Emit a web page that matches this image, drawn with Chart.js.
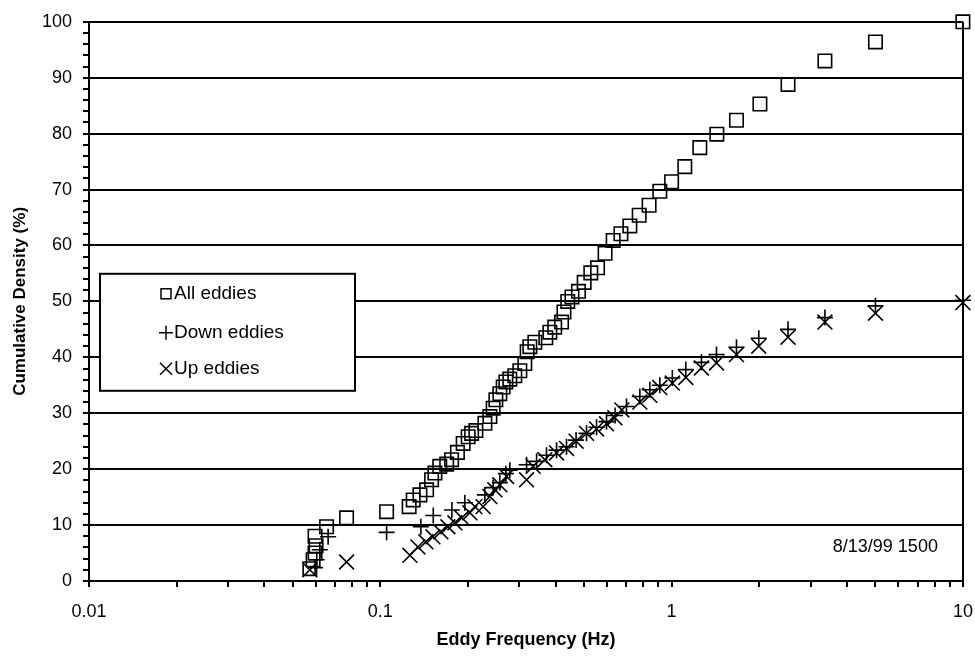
<!DOCTYPE html>
<html>
<head>
<meta charset="utf-8">
<title>Eddy frequency - cumulative density</title>
<script src="https://cdn.jsdelivr.net/npm/chart.js@4.4.1/dist/chart.umd.min.js"></script>
<style>
  html, body { margin: 0; padding: 0; background: #fff; }
  #wrap { width: 975px; height: 656px; }
</style>
</head>
<body>
<div id="wrap"><canvas id="eddyChart" width="975" height="656"></canvas></div>
<script>
/* Cumulative density vs eddy frequency, 8/13/99 1500
   values (Hz, %) */

const allFreq = [0.0573, 0.0588, 0.0597, 0.0602, 0.0597, 0.0654, 0.0766, 0.1051, 0.1256, 0.1297,
  0.1368, 0.1442, 0.150, 0.154, 0.160, 0.169, 0.1757, 0.184, 0.1925, 0.2003,
  0.2058, 0.2129, 0.2286, 0.2378, 0.244, 0.2493, 0.2573, 0.2641, 0.2698, 0.2784,
  0.2896, 0.3013, 0.3134, 0.3192, 0.3261, 0.3393, 0.370, 0.382, 0.397, 0.419,
  0.427, 0.440, 0.455, 0.479, 0.501, 0.528, 0.557, 0.591, 0.630, 0.670,
  0.719, 0.774, 0.837, 0.911, 1.00, 1.11, 1.25, 1.43, 1.67, 2.01,
  2.51, 3.36, 5.01, 10];
const allDensity = [2.2, 3.8, 5.0, 6.3, 8.0, 9.7, 11.3, 12.4, 13.3, 14.5,
  15.4, 16.3, 18.1, 19.3, 20.5, 20.9, 21.7, 23.0, 24.6, 25.8,
  26.4, 26.9, 28.2, 29.4, 30.9, 32.4, 33.5, 34.7, 35.6, 36.1,
  36.7, 37.6, 38.9, 41.0, 41.9, 42.7, 43.5, 44.5, 45.4, 46.3,
  48.1, 50.0, 50.8, 51.8, 53.4, 55.1, 56.0, 58.6, 60.9, 62.1,
  63.5, 65.4, 67.2, 69.7, 71.4, 74.1, 77.5, 79.9, 82.4, 85.3,
  88.8, 93.0, 96.4, 100];

const downFreq = [0.0597, 0.0605, 0.062, 0.0662, 0.1051, 0.1378, 0.152, 0.1761, 0.1951, 0.2286,
  0.244, 0.2573, 0.2698, 0.2784, 0.3178, 0.344, 0.372, 0.4027, 0.4358, 0.470,
  0.5105, 0.5525, 0.5978, 0.640, 0.700, 0.778, 0.842, 0.911, 1.006, 1.119,
  1.266, 1.426, 1.670, 1.992, 2.51, 3.36, 5.01, 10];
const downDensity = [2.4, 3.8, 5.6, 7.9, 8.7, 9.7, 11.7, 12.7, 14.0, 15.4,
  16.7, 17.6, 19.2, 19.8, 20.8, 21.4, 22.5, 23.4, 24.0, 25.2,
  26.4, 27.5, 28.5, 29.6, 31.2, 33.0, 34.2, 35.0, 36.3, 37.8,
  39.1, 40.5, 41.8, 43.4, 45.0, 47.1, 49.2, 50.2];

const upFreq = [0.0573, 0.0766, 0.1264, 0.1346, 0.1434, 0.1516, 0.1614, 0.1706, 0.1803, 0.1906,
  0.203, 0.2112, 0.2254, 0.2378, 0.2474, 0.2573, 0.2713, 0.3178, 0.3348, 0.3672,
  0.4027, 0.4358, 0.470, 0.5105, 0.5525, 0.5978, 0.6384, 0.6748, 0.778, 0.842,
  0.911, 1.006, 1.119, 1.266, 1.426, 1.670, 1.992, 2.51, 3.36, 5.01, 10];
const upDensity = [2.0, 3.4, 4.6, 6.1, 7.0, 7.9, 8.8, 9.7, 10.4, 11.3,
  12.2, 13.3, 13.3, 15.1, 16.3, 17.2, 18.7, 18.1, 20.5, 21.7,
  22.9, 23.7, 25.0, 26.4, 27.2, 28.1, 29.2, 30.6, 32.0, 33.2,
  34.6, 35.4, 36.4, 38.1, 39.0, 40.5, 42.0, 43.6, 46.3, 47.9, 49.8];

const xMajorTicks = [0.01, 0.1, 1, 10];
const xTickLabels = ['0.01', '0.1', '1', '10'];
const xMinorSteps = [1, 2, 3, 4, 5, 6, 7, 8, 9];
const seriesNames = ['All eddies', 'Down eddies', 'Up eddies'];
const stampText = '8/13/99 1500';

const FONT = '"Liberation Sans", Arial, Helvetica, sans-serif';

function pairs(xs, ys) {
  return xs.map((x, i) => ({ x: x, y: ys[i] }));
}

// every 1..9 step in each decade, plus the last decade mark
const xTickValues = [];
xMajorTicks.slice(0, -1).forEach(d => xMinorSteps.forEach(m => xTickValues.push(d * m)));
xTickValues.push(xMajorTicks[xMajorTicks.length - 1]);

function majorIndex(v) {
  return xMajorTicks.findIndex(m => Math.abs(Math.log10(v) - Math.log10(m)) < 1e-6);
}

/* hand-drawn legend box + date stamp inside the plot */
const legendBox = {
  id: 'legendBox',
  afterDraw(chart) {
    const ctx = chart.ctx;
    const a = chart.chartArea;
    const bx = a.left + 11, by = a.top + 252, bw = 255, bh = 117;
    ctx.save();
    ctx.fillStyle = '#fff';
    ctx.fillRect(bx, by, bw, bh);
    ctx.strokeStyle = '#000';
    ctx.lineWidth = 2;
    ctx.strokeRect(bx, by, bw, bh);

    const ix = bx + 66;
    const rows = [by + 20, by + 59, by + 95];
    ctx.lineWidth = 1.5;
    // square
    ctx.strokeRect(ix - 5, rows[0] - 5, 10, 10);
    // plus
    ctx.beginPath();
    ctx.moveTo(ix - 7, rows[1]); ctx.lineTo(ix + 7, rows[1]);
    ctx.moveTo(ix, rows[1] - 7); ctx.lineTo(ix, rows[1] + 7);
    // cross
    ctx.moveTo(ix - 6, rows[2] - 6); ctx.lineTo(ix + 6, rows[2] + 6);
    ctx.moveTo(ix + 6, rows[2] - 6); ctx.lineTo(ix - 6, rows[2] + 6);
    ctx.stroke();

    ctx.fillStyle = '#000';
    ctx.font = '19px ' + FONT;
    ctx.textBaseline = 'middle';
    ctx.textAlign = 'left';
    seriesNames.forEach((n, i) => ctx.fillText(n, ix + 8, rows[i]));

    ctx.font = '18px ' + FONT;
    ctx.textAlign = 'right';
    ctx.fillText(stampText, a.right - 25, a.bottom - 34);
    ctx.restore();
  }
};

Chart.defaults.font.family = FONT;
Chart.defaults.color = '#000';

new Chart(document.getElementById('eddyChart'), {
  type: 'scatter',
  data: {
    datasets: [
      {
        label: seriesNames[0],
        data: pairs(allFreq, allDensity),
        pointStyle: 'rect',
        pointRadius: 9.5,
        pointBorderWidth: 1.6,
        pointBorderColor: '#000',
        pointBackgroundColor: 'rgba(0,0,0,0)',
        clip: false
      },
      {
        label: seriesNames[1],
        data: pairs(downFreq, downDensity),
        pointStyle: 'cross',
        pointRadius: 8,
        pointBorderWidth: 1.6,
        pointBorderColor: '#000',
        clip: false
      },
      {
        label: seriesNames[2],
        data: pairs(upFreq, upDensity),
        pointStyle: 'crossRot',
        pointRadius: 10.5,
        pointBorderWidth: 1.6,
        pointBorderColor: '#000',
        clip: false
      }
    ]
  },
  options: {
    responsive: false,
    animation: false,
    devicePixelRatio: 1,
    layout: { padding: { top: 21, right: 12, bottom: 0, left: 0 } },
    plugins: {
      legend: { display: false },
      tooltip: { enabled: false }
    },
    scales: {
      x: {
        type: 'logarithmic',
        min: 0.01,
        max: 10,
        afterBuildTicks: s => { s.ticks = xTickValues.map(v => ({ value: v })); },
        afterFit: s => {
          s.height = 75;
          // let the "10" label hang into the right margin
          s.paddingLeft = 0;
          s.paddingRight = 0;
        },
        ticks: {
          autoSkip: false,
          maxRotation: 0,
          padding: 14,
          font: { size: 18 },
          callback: v => {
            const i = majorIndex(v);
            return i >= 0 ? xTickLabels[i] : '';
          }
        },
        grid: {
          color: c => (c.tick && Math.abs(c.tick.value - 10) < 1e-9) ? '#000' : 'rgba(0,0,0,0)',
          lineWidth: 2,
          tickColor: '#000',
          tickWidth: 2,
          tickLength: 6
        },
        border: { color: '#000', width: 2 },
        title: {
          display: true,
          text: 'Eddy Frequency (Hz)',
          font: { size: 18, weight: 'bold' },
          padding: { top: 5, bottom: 5 }
        }
      },
      y: {
        min: 0,
        max: 100,
        afterFit: s => { s.width = 89; },
        ticks: {
          stepSize: 2,
          autoSkip: false,
          padding: 11,
          font: { size: 18 },
          callback: v => (v % 10 === 0 ? String(v) : '')
        },
        grid: {
          color: c => (c.tick && c.tick.value % 10 === 0) ? '#000' : 'rgba(0,0,0,0)',
          lineWidth: 2,
          tickColor: '#000',
          tickWidth: 2,
          tickLength: 6
        },
        border: { color: '#000', width: 2 },
        title: {
          display: true,
          text: 'Cumulative Density (%)',
          font: { size: 17, weight: 'bold' },
          padding: { top: 10, bottom: 4 }
        }
      }
    }
  },
  plugins: [legendBox]
});
</script>
</body>
</html>
